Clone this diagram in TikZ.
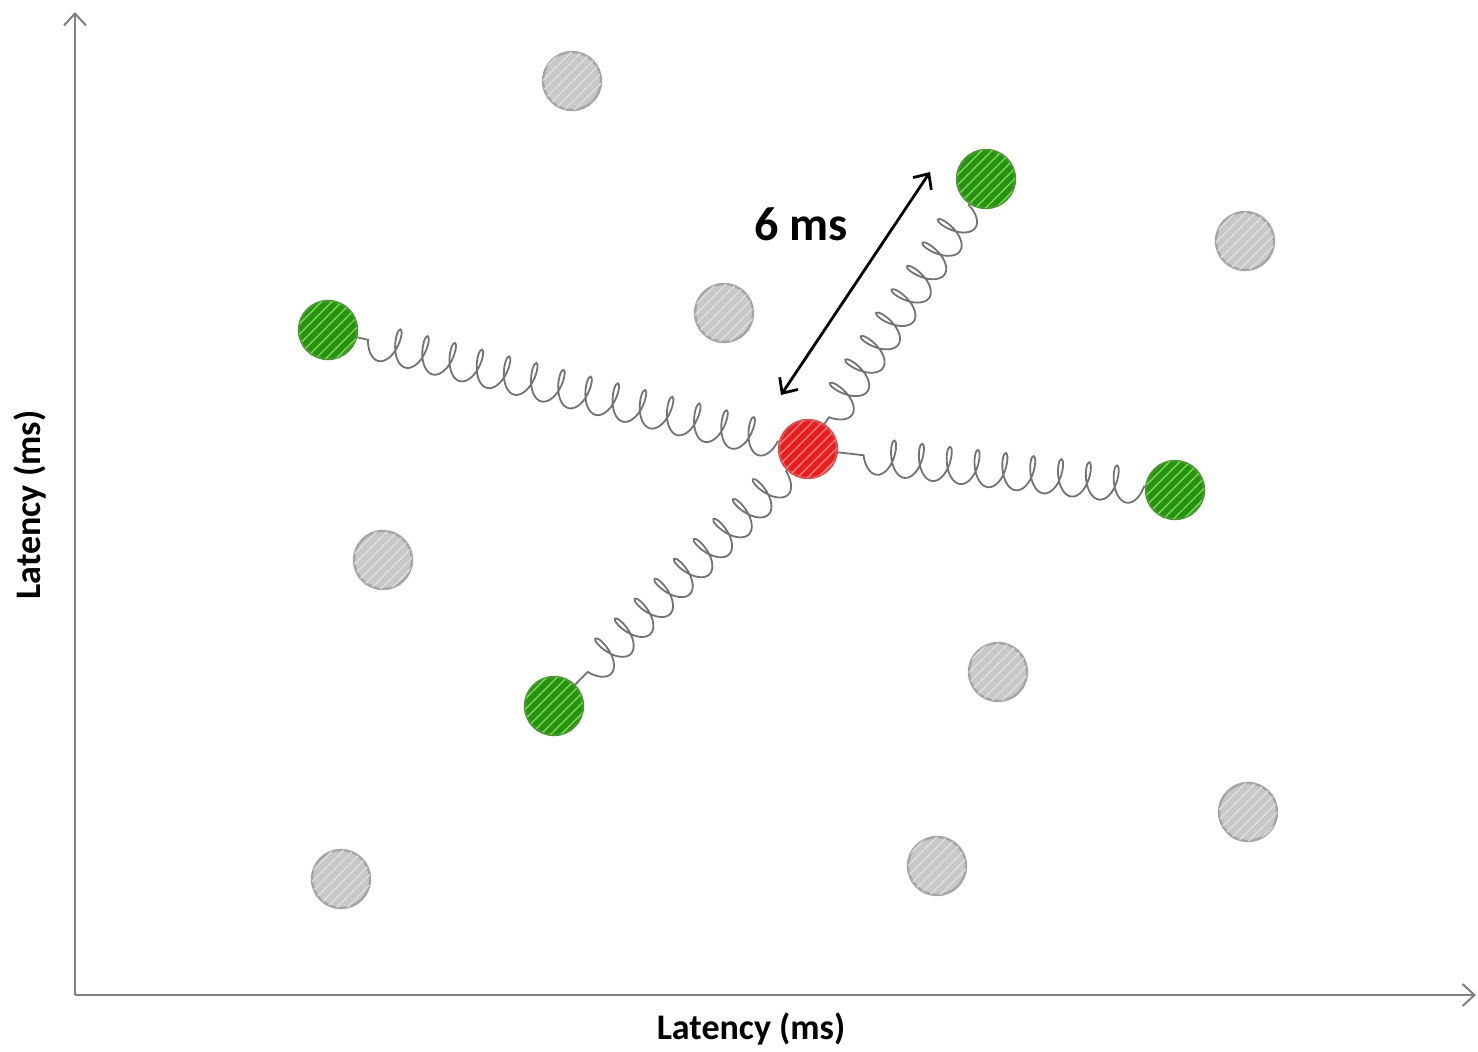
\documentclass[tikz,border=0pt]{standalone}
\usepackage{fontspec}
\setmainfont{Carlito}
\usetikzlibrary{arrows.meta,patterns.meta,decorations.pathmorphing}

\definecolor{axisgray}{RGB}{128,128,128}
\definecolor{springgray}{RGB}{115,115,115}
\definecolor{nodegrayfill}{RGB}{200,200,200}
\definecolor{nodegraystripe}{RGB}{222,222,222}
\definecolor{nodegrayline}{RGB}{165,165,165}
\definecolor{peergreenfill}{RGB}{40,145,20}
\definecolor{peergreenstripe}{RGB}{115,220,70}
\definecolor{peergreenline}{RGB}{70,150,50}
\definecolor{selfredfill}{RGB}{232,30,30}
\definecolor{selfredstripe}{RGB}{255,125,125}
\definecolor{selfredline}{RGB}{215,80,80}

\tikzset{
  pt/.style={circle, minimum size=29pt, inner sep=0pt, line width=1.2pt},
  hatch/.style={postaction={pattern={Lines[angle=45,distance=3.6pt,line width=0.7pt]}, pattern color=#1}},
  others/.style={pt, draw=nodegrayline, fill=nodegrayfill, hatch=nodegraystripe},
  peer/.style={pt, draw=peergreenline, fill=peergreenfill, hatch=peergreenstripe},
  self/.style={pt, draw=selfredline, fill=selfredfill, hatch=selfredstripe},
  axis/.style={draw=axisgray, line width=1pt, -{Straight Barb[length=6pt,width=11pt]}},
  spring/.style={draw=springgray, line width=0.9pt, decorate,
    decoration={coil, aspect=0.45, segment length=14pt, amplitude=9pt,
      pre length=0.5pt, post length=0.5pt}},
  axislabel/.style={font=\bfseries\fontsize{18pt}{20pt}\selectfont, text=black},
  dist/.style={draw=black, line width=1.4pt,
    {Straight Barb[length=6pt,width=11pt]}-{Straight Barb[length=6pt,width=11pt]}}
}

\begin{document}
\begin{tikzpicture}[x=0.5pt, y=-0.5pt]
  \useasboundingbox (0,0) rectangle (1478,1051);

  % axes
  \coordinate (origin) at (75,995);
  \coordinate (ytop) at (75,12);
  \coordinate (xend) at (1476,995);
  \draw[axis] (origin) -- (ytop);
  \draw[axis] (origin) -- (xend);
  \node[axislabel] (xlabel) at (751,1029) {Latency (ms)};
  \node[axislabel, rotate=90] (ylabel) at (30,505) {Latency (ms)};

  % node positions
  \coordinate (pself) at (808,449);
  \coordinate (pg1) at (986,179);
  \coordinate (pg2) at (328,330);
  \coordinate (pg3) at (1175,490);
  \coordinate (pg4) at (554,706);

  % springs are laid under the nodes, each drawn right to left
  \node[pt] (selfc) at (pself) {};
  \node[pt] (g1c) at (pg1) {};
  \node[pt] (g2c) at (pg2) {};
  \node[pt] (g3c) at (pg3) {};
  \node[pt] (g4c) at (pg4) {};
  \draw[spring] (g1c) -- (selfc);
  \draw[spring] (selfc) -- (g2c);
  \draw[spring] (g3c) -- (selfc);
  \draw[spring] (selfc) -- (g4c);

  % other hosts
  \node[others] (o1) at (572,81) {};
  \node[others] (o2) at (1245,241) {};
  \node[others] (o3) at (724,313) {};
  \node[others] (o4) at (383,560) {};
  \node[others] (o5) at (998,672) {};
  \node[others] (o6) at (1248,812) {};
  \node[others] (o7) at (341,879) {};
  \node[others] (o8) at (937,866) {};

  % neighbours and the local host
  \node[peer] (g1) at (pg1) {};
  \node[peer] (g2) at (pg2) {};
  \node[peer] (g3) at (pg3) {};
  \node[peer] (g4) at (pg4) {};
  \node[self] (self) at (pself) {};

  % measured distance
  \coordinate (distA) at (930,172);
  \coordinate (distB) at (781,395);
  \draw[dist] (distA) -- (distB);
  \node[font=\bfseries\fontsize{24pt}{26pt}\selectfont] (distlabel) at (801,224) {6 ms};
\end{tikzpicture}
\end{document}
